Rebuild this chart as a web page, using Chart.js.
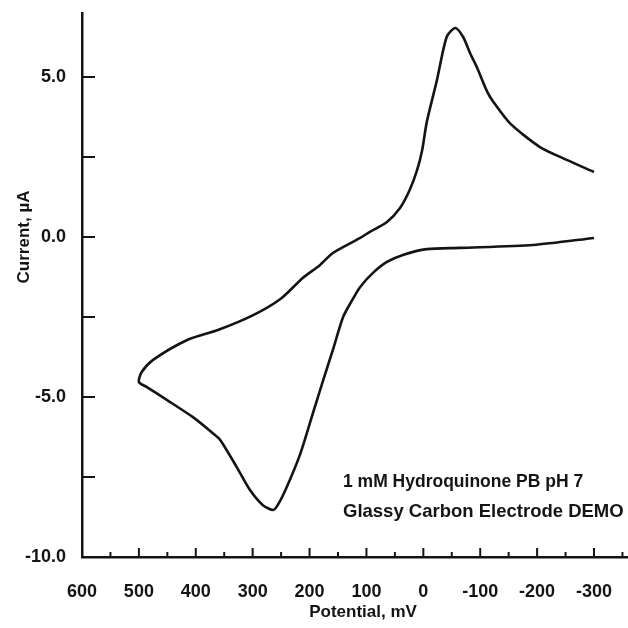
<!DOCTYPE html>
<html>
<head>
<meta charset="utf-8">
<title>Cyclic voltammogram</title>
<script src="https://cdn.jsdelivr.net/npm/chart.js@4"></script>
<style>
  html, body { margin: 0; padding: 0; background: #fff; }
  #wrap { width: 628px; height: 628px; position: relative; }
</style>
</head>
<body>
<div id="wrap"><canvas id="cvChart"></canvas></div>
<script>
// Scan: starts at -300 mV, runs out to +500 mV, then back to -300 mV
const potentialMv = [
  -300, -193, -64, -6, 36, 64, 89, 111, 125, 141, 159, 176, 194, 217, 240, 256, 264,
  282, 305, 328, 357, 370, 405, 451, 486, 500,
  495, 475, 415, 360, 300, 250, 212, 182, 159, 111, 94, 64, 41, 24, 11, 2, -6, -24,
  -41, -56, -70, -82, -94, -112, -122, -152, -205, -252, -300
];
const currentUa = [
  -0.03, -0.25, -0.34, -0.38, -0.56, -0.78, -1.13, -1.56, -1.97, -2.5, -3.53, -4.47, -5.5, -6.81, -7.81, -8.38, -8.53,
  -8.38, -7.9, -7.19, -6.34, -6.13, -5.63, -5.09, -4.69, -4.53,
  -4.22, -3.84, -3.22, -2.9, -2.45, -1.92, -1.28, -0.88, -0.5, -0.03, 0.16, 0.47, 0.91, 1.47, 2.09, 2.72, 3.59, 4.91,
  6.25, 6.53, 6.25, 5.75, 5.31, 4.55, 4.25, 3.56, 2.81, 2.41, 2.03
];

// Axis ticks
const xTickValues = [600, 550, 500, 450, 400, 350, 300, 250, 200, 150, 100, 50, 0, -50, -100, -150, -200, -250, -300, -350];
const xTickLabels = ['600', '500', '400', '300', '200', '100', '0', '-100', '-200', '-300'];
const yTickValues = [-10, -7.5, -5, -2.5, 0, 2.5, 5];
const yTickLabels = ['-10.0', '-5.0', '0.0', '5.0'];

const noteLines = ['1 mM Hydroquinone PB pH 7', 'Glassy Carbon Electrode DEMO'];

const ink = '#141414';
const fontFamily = '"Liberation Sans", Arial, sans-serif';

const points = potentialMv.map((e, i) => ({ x: e, y: currentUa[i] }));

// ticks point into the plot, axis titles and the note text
const plotExtras = {
  id: 'plotExtras',
  afterDraw(chart) {
    const { ctx, chartArea, scales: { x, y } } = chart;
    ctx.save();
    ctx.strokeStyle = ink;
    ctx.lineWidth = 2;
    x.ticks.forEach(t => {
      const px = x.getPixelForValue(t.value);
      const len = t.value % 100 === 0 ? 9 : 5;
      ctx.beginPath();
      ctx.moveTo(px, chartArea.bottom);
      ctx.lineTo(px, chartArea.bottom - len);
      ctx.stroke();
    });
    y.ticks.forEach(t => {
      const py = y.getPixelForValue(t.value);
      ctx.beginPath();
      ctx.moveTo(chartArea.left, py);
      ctx.lineTo(chartArea.left + 13, py);
      ctx.stroke();
    });

    ctx.fillStyle = ink;
    ctx.textBaseline = 'middle';

    // axis titles
    ctx.font = 'bold 17px ' + fontFamily;
    ctx.textAlign = 'center';
    ctx.fillText('Potential, mV', 363, 612);
    ctx.save();
    ctx.translate(24, 237);
    ctx.rotate(-Math.PI / 2);
    ctx.fillText('Current, µA', 0, 0);
    ctx.restore();

    // note in the lower right corner
    ctx.textAlign = 'left';
    ctx.font = 'bold 17.5px ' + fontFamily;
    ctx.fillText(noteLines[0], 343, 482);
    ctx.font = 'bold 18.5px ' + fontFamily;
    ctx.fillText(noteLines[1], 343, 512);
    ctx.restore();
  }
};

new Chart(document.getElementById('cvChart'), {
  type: 'scatter',
  data: {
    datasets: [{
      label: 'Current',
      data: points,
      showLine: true,
      borderColor: ink,
      borderWidth: 2.6,
      pointRadius: 0,
      tension: 0.25,
      fill: false
    }]
  },
  options: {
    responsive: true,
    maintainAspectRatio: false,
    animation: false,
    layout: { padding: { top: 13, right: 1, left: 0, bottom: 0 } },
    plugins: {
      legend: { display: false },
      tooltip: { enabled: false }
    },
    scales: {
      x: {
        type: 'linear',
        reverse: true,
        min: -358,
        max: 600,
        afterFit: scale => {
          scale.height = 71;
          scale.paddingLeft = 0;
          scale.paddingRight = 0;
        },
        afterBuildTicks: scale => { scale.ticks = xTickValues.map(v => ({ value: v })); },
        grid: { display: false, drawTicks: false },
        border: { display: true, color: ink, width: 2.5 },
        ticks: {
          autoSkip: false,
          maxRotation: 0,
          padding: 24,
          color: ink,
          font: { family: fontFamily, size: 18, weight: 'bold' },
          callback: v => xTickLabels.includes(String(v)) ? String(v) : ''
        }
      },
      y: {
        type: 'linear',
        min: -10,
        max: 7,
        afterFit: scale => {
          scale.width = 82;
          scale.paddingTop = 0;
          scale.paddingBottom = 0;
        },
        afterBuildTicks: scale => { scale.ticks = yTickValues.map(v => ({ value: v })); },
        grid: { display: false, drawTicks: false },
        border: { display: true, color: ink, width: 2.5 },
        ticks: {
          autoSkip: false,
          padding: 16,
          color: ink,
          font: { family: fontFamily, size: 18, weight: 'bold' },
          callback: v => yTickLabels.includes(v.toFixed(1)) ? v.toFixed(1) : ''
        }
      }
    }
  },
  plugins: [plotExtras]
});
</script>
</body>
</html>
